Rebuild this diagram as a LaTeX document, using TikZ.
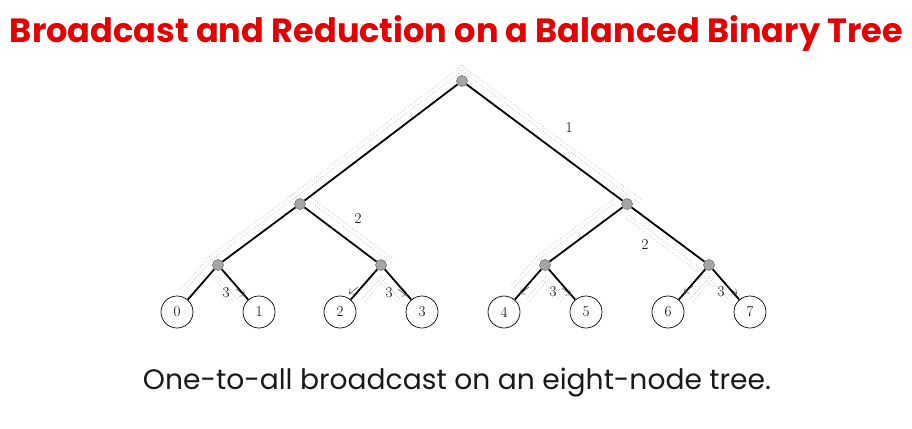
\documentclass[tikz,border=0pt]{standalone}
\usepackage{fontspec}
\newfontfamily\titlefont{Poppins}
\usetikzlibrary{calc,arrows.meta}
\definecolor{titlered}{RGB}{226,0,0}
\definecolor{bandgray}{RGB}{185,185,185}
\newcommand\bandseg[6]{%
  \path ($(#1)!#4!(#2)$) coordinate (bs) ($(#1)!#5!(#2)$) coordinate (be);
  \foreach \d in {#6}{%
    \path ($(bs)!\d pt!#3:(be)$) coordinate (bp);
    \draw[band] (bp) -- ($(bp)+(be)-(bs)$);
  }}
\tikzset{
  band/.style={draw=bandgray, dotted, line width=0.7pt},
  edge/.style={draw=black, line width=1.8pt},
  inner/.style={circle, draw=black!60, fill=black!35, line width=0.5pt, minimum size=11pt, inner sep=0pt},
  leaf/.style={circle, draw=black, line width=0.7pt, minimum size=32pt, inner sep=0pt, font=\fontsize{15}{15}\selectfont},
  lbl/.style={font=\fontsize{15}{15}\selectfont, inner sep=0pt},
  msg/.style={draw=black!75, line width=0.5pt, -{Straight Barb[length=4pt,width=7pt]}},
}
\begin{document}
\begin{tikzpicture}[x=1pt,y=-1pt]
\useasboundingbox (0,0) rectangle (912,428);
% title
\node[text=titlered, inner sep=0pt] (title) at (456.5,33) {\resizebox{893pt}{!}{\titlefont\bfseries Broadcast and Reduction on a Balanced Binary Tree}};
% node positions
\coordinate (R) at (462,81);
\coordinate (A) at (300,204);
\coordinate (B) at (627,204);
\coordinate (A1) at (218,265);
\coordinate (A2) at (381,265);
\coordinate (B1) at (545,265);
\coordinate (B2) at (709,265);
\foreach \i/\x in {0/177,1/259,2/340,3/422,4/504,5/586,6/668,7/750}
  \coordinate (c\i) at (\x,312);
% message bands
\bandseg{R}{A}{-90}{-0.05}{1.02}{8,12}
\bandseg{A}{A1}{-90}{-0.02}{1.02}{8,12}
\bandseg{A1}{c0}{-90}{-0.02}{0.72}{8,12}
\bandseg{R}{B}{90}{-0.05}{1.05}{8,12}
\bandseg{A}{A2}{90}{0.02}{1.08}{8,12}
\bandseg{B}{B1}{-90}{-0.02}{1.02}{8,12}
\bandseg{B1}{c4}{-90}{-0.02}{0.6}{8,12}
\bandseg{B}{B2}{-90}{0.08}{1.04}{8,12}
\bandseg{A1}{c1}{-90}{0.12}{0.62}{8,12}
\bandseg{A2}{c2}{90}{0.12}{0.62}{8,12}
\bandseg{A2}{c3}{-90}{0.12}{0.62}{8,12}
\bandseg{B1}{c4}{90}{0.12}{0.62}{8,12}
\bandseg{B1}{c5}{-90}{0.12}{0.62}{8,12}
\bandseg{B2}{c6}{90}{0.12}{0.62}{8,12}
\bandseg{B2}{c7}{-90}{0.12}{0.62}{8,12}
% nodes
\node[inner] (r) at (R) {};
\node[inner] (a) at (A) {};
\node[inner] (b) at (B) {};
\node[inner] (a1) at (A1) {};
\node[inner] (a2) at (A2) {};
\node[inner] (b1) at (B1) {};
\node[inner] (b2) at (B2) {};
\foreach \i in {0,...,7}
  \node[leaf] (n\i) at (c\i) {\i};
% edges
\draw[edge] (r) -- (a);
\draw[edge] (r) -- (b);
\draw[edge] (a) -- (a1);
\draw[edge] (a) -- (a2);
\draw[edge] (b) -- (b1);
\draw[edge] (b) -- (b2);
\draw[edge] (a1) -- (n0);
\draw[edge] (a1) -- (n1);
\draw[edge] (a2) -- (n2);
\draw[edge] (a2) -- (n3);
\draw[edge] (b1) -- (n4);
\draw[edge] (b1) -- (n5);
\draw[edge] (b2) -- (n6);
\draw[edge] (b2) -- (n7);
% step labels
\node[lbl] (l1) at (569,128) {1};
\node[lbl] (l2a) at (358,219) {2};
\node[lbl] (l2b) at (645,245) {2};
\node[lbl] (l3a) at (226,293) {3};
\node[lbl] (l3b) at (389,293) {3};
\node[lbl] (l3c) at (553,292) {3};
\node[lbl] (l3d) at (721,292) {3};
% small message arrows
\coordinate (m1s) at (236,289); \coordinate (m1e) at (245,296);
\coordinate (m2s) at (358,287); \coordinate (m2e) at (349,294);
\coordinate (m3s) at (398,289); \coordinate (m3e) at (407,296);
\coordinate (m4s) at (529,287); \coordinate (m4e) at (520,294);
\coordinate (m5s) at (562,288); \coordinate (m5e) at (571,295);
\coordinate (m6s) at (693,286); \coordinate (m6e) at (684,293);
\coordinate (m7s) at (728,287); \coordinate (m7e) at (737,294);
\foreach \k in {1,...,7} \draw[msg] (m\k s) -- (m\k e);
% caption
\node[inner sep=0pt, text=black!90] (cap) at (457,383) {\resizebox{628pt}{!}{\titlefont One-to-all broadcast on an eight-node tree.}};
\end{tikzpicture}
\end{document}
